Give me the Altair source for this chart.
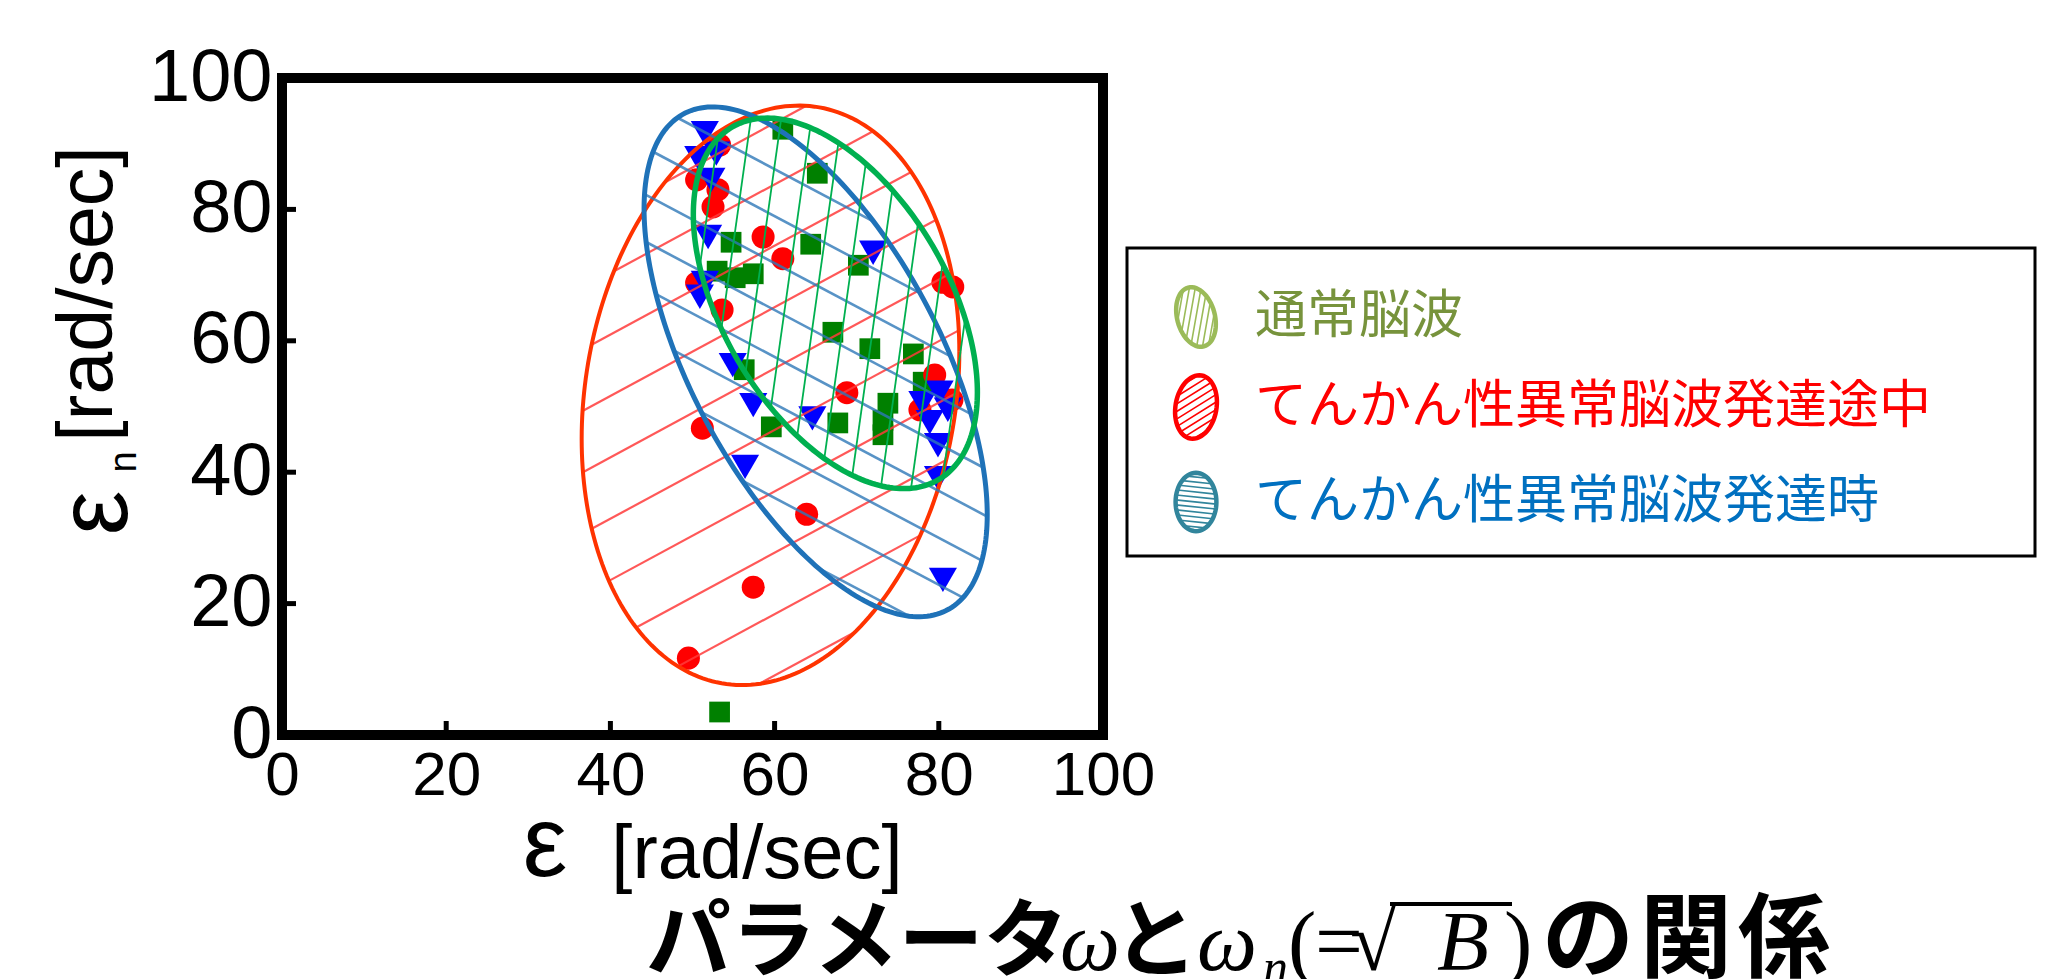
import math
import numpy as np
import pandas as pd
import altair as alt

# ---- measured points: ω (x) and ω_n (y), rad/sec ----
normal_w = [61.0, 65.2, 54.7, 64.4, 70.2, 53.0, 55.2, 57.4, 67.1, 71.6,
            76.9, 78.1, 56.3, 73.8, 73.2, 73.2, 59.6, 67.7, 53.3]
normal_wn = [92.2, 85.5, 75.0, 74.7, 71.5, 70.6, 69.6, 70.2, 61.3, 58.8,
             58.0, 53.7, 55.6, 50.5, 47.9, 45.7, 46.9, 47.5, 3.5]

onset_w = [53.3, 50.5, 53.1, 52.5, 58.6, 61.0, 50.5, 53.6, 80.5, 81.7,
           79.5, 77.7, 81.6, 68.8, 51.2, 63.9, 57.4, 49.5]
onset_wn = [89.8, 84.5, 83.0, 80.4, 75.8, 72.5, 68.8, 64.7, 68.9, 68.2,
            54.8, 49.5, 51.0, 52.1, 46.7, 33.6, 22.5, 11.7]

seizure_w = [51.5, 52.9, 50.7, 52.3, 51.9, 72.0, 51.5, 50.9, 54.9, 57.4,
             64.6, 78.0, 80.1, 81.1, 78.9, 79.9, 79.9, 56.4, 80.5]
seizure_wn = [91.6, 88.5, 87.8, 84.5, 75.8, 73.4, 68.8, 66.7, 56.3, 50.2,
              48.2, 50.5, 52.1, 49.5, 47.6, 44.1, 39.1, 40.8, 23.6]

group_labels = ["通常脳波", "てんかん性異常脳波発達途中", "てんかん性異常脳波発達時"]

# region ellipses (normal, onset, seizure): centre, half extents, x-y coupling
ellipse_cx = [67.4, 59.5, 65.0]
ellipse_cy = [65.7, 51.7, 56.8]
ellipse_hx = [17.3, 23.0, 20.9]
ellipse_hy = [28.2, 44.1, 38.8]
ellipse_rho = [-0.48, 0.15, -0.60]

tick_values = [0, 20, 40, 60, 80, 100]
inner_ticks = [20, 40, 60, 80]

# ---- layout ----
W, H = 821, 657
PAD = {"left": 282, "top": 78, "right": 2072 - 282 - W, "bottom": 979 - 78 - H}
SX, SY = W / 100.0, H / 100.0

LABEL_FONT = "Liberation Sans"
SERIF = "Liberation Serif"
JP_FONT = "Noto Sans CJK JP"

xs = alt.Scale(domain=[0, 100], nice=False, zero=False)
ys = alt.Scale(domain=[0, 100], nice=False, zero=False)
x_axis = alt.Axis(values=tick_values, title=None, grid=False, domain=False, ticks=False,
                  labelFont=LABEL_FONT, labelFontSize=62, labelPadding=10,
                  labelFlush=False, labelColor="black")
y_axis = alt.Axis(values=tick_values, title=None, grid=False, domain=False, ticks=False,
                  labelFont=LABEL_FONT, labelFontSize=74, labelPadding=10,
                  labelFlush=False, labelColor="black")


def X(field):
    return alt.X(field, type="quantitative", scale=xs, axis=x_axis)


def Y(field):
    return alt.Y(field, type="quantitative", scale=ys, axis=y_axis)


# ---- ellipse geometry (screen space, y up) ----
def ellipse_frame(cx, cy, hx, hy, rho):
    s = math.sqrt(1.0 - rho * rho)
    C = np.array([cx * SX, cy * SY])
    M = np.array([[hx * SX, 0.0], [hy * SY * rho, -hy * SY * s]])
    return C, M


def chords(C, M, theta_deg, spacing, anchor):
    th = math.radians(theta_deg)
    n = np.array([-math.sin(th), math.cos(th)])
    m = M.T @ n
    mn = float(np.linalg.norm(m))
    mu = m / mn
    mp = np.array([-mu[1], mu[0]])
    c0 = float(n @ C)
    k0 = float(n @ anchor)
    lo = math.floor((c0 - mn - k0) / spacing)
    hi = math.ceil((c0 + mn - k0) / spacing)
    segs = []
    for j in range(lo, hi + 1):
        r = (k0 + j * spacing - c0) / mn
        if abs(r) >= 0.995:
            continue
        h = math.sqrt(1.0 - r * r)
        segs.append((C + M @ (r * mu + h * mp), C + M @ (r * mu - h * mp)))
    return segs


def outline_df(i, n=241):
    t = np.linspace(0, 2 * np.pi, n)
    phi = math.acos(ellipse_rho[i])
    return pd.DataFrame({
        "x": ellipse_cx[i] + ellipse_hx[i] * np.cos(t),
        "y": ellipse_cy[i] + ellipse_hy[i] * np.cos(t + phi),
        "k": np.arange(n),
    })


def hatch_df(i, theta, spacing, anchor_data):
    C, M = ellipse_frame(ellipse_cx[i], ellipse_cy[i], ellipse_hx[i], ellipse_hy[i], ellipse_rho[i])
    anchor = np.array([anchor_data[0] * SX, anchor_data[1] * SY])
    rows = []
    for p, q in chords(C, M, theta, spacing, anchor):
        rows.append({"x": p[0] / SX, "y": p[1] / SY, "x2": q[0] / SX, "y2": q[1] / SY})
    return pd.DataFrame(rows)


# hatch settings: screen angle (deg), spacing (px), a point one line passes through
hatch = [
    dict(theta=82.0, spacing=30.0, anchor=(57.0, 92.8)),
    dict(theta=28.4, spacing=54.0, anchor=(37.9, 31.5)),
    dict(theta=-27.9, spacing=41.5, anchor=(85.6, 26.3)),
]
outline_color = ["#00b050", "#ff3300", "#1f72b8"]
outline_width = [5.5, 4.0, 5.0]
hatch_color = ["#00b050", "#ff3b3b", "#2e78b8"]
hatch_width = [1.8, 2.2, 2.6]
hatch_opacity = [1.0, 0.85, 0.8]


def region_layers(i):
    h = hatch[i]
    lines = alt.Chart(hatch_df(i, h["theta"], h["spacing"], h["anchor"])).mark_rule(
        color=hatch_color[i], strokeWidth=hatch_width[i], opacity=hatch_opacity[i]
    ).encode(x=X("x"), y=Y("y"), x2="x2", y2="y2")
    ring = alt.Chart(outline_df(i)).mark_line(
        color=outline_color[i], strokeWidth=outline_width[i]
    ).encode(x=X("x"), y=Y("y"), order="k:Q")
    return [lines, ring]


# ---- scatter ----
normal_pts = alt.Chart(pd.DataFrame({"w": normal_w, "wn": normal_wn})).mark_point(
    shape="square", filled=True, color="#008000", size=430, opacity=1
).encode(x=X("w"), y=Y("wn"))
onset_pts = alt.Chart(pd.DataFrame({"w": onset_w, "wn": onset_wn})).mark_point(
    shape="circle", filled=True, color="#ff0000", size=530, opacity=1
).encode(x=X("w"), y=Y("wn"))
seizure_pts = alt.Chart(pd.DataFrame({"w": seizure_w, "wn": seizure_wn})).mark_point(
    shape="triangle-down", filled=True, color="#0000ff", size=790, opacity=1
).encode(x=X("w"), y=Y("wn"))

# inward ticks
xt = alt.Chart(pd.DataFrame({"v": inner_ticks})).mark_rule(color="black", strokeWidth=5).encode(
    x=X("v"), y=alt.value(H), y2=alt.value(H - 14))
yt = alt.Chart(pd.DataFrame({"v": inner_ticks})).mark_rule(color="black", strokeWidth=5).encode(
    y=Y("v"), x=alt.value(0), x2=alt.value(14))


# ---- texts ----
def text_layer(txt, x, y, size, font=LABEL_FONT, angle=0, color="black", align="center",
               baseline="middle", style="normal", weight="normal"):
    return alt.Chart(pd.DataFrame({"t": [txt]})).mark_text(
        font=font, fontSize=size, angle=angle, color=color, align=align, baseline=baseline,
        fontStyle=style, fontWeight=weight
    ).encode(text="t:N", x=alt.value(x), y=alt.value(y))


axis_titles = [
    text_layer("ε", 263, 768, 100),
    text_layer("[rad/sec]", 475, 777, 76),
    text_layer("[rad/sec]", -193, 216, 77, angle=270),
    text_layer("ε", -185, 435, 100, angle=270),
    text_layer("n", -157, 384, 38, angle=270),
]

# bottom caption, set piece by piece: kana/kanji in gothic, math in italic serif
BASE = 892


def cap(txt, x, size=85, font=JP_FONT, style="normal", weight="bold", dy=0):
    return text_layer(txt, x, BASE + dy, size, font=font, style=style, weight=weight,
                      align="left", baseline="alphabetic")


caption = [
    cap("パラメータ", 364),
    cap("ω", 778, font=SERIF, style="italic", weight="normal"),
    cap("と", 831),
    cap("ω", 915, font=SERIF, style="italic", weight="normal"),
    cap("n", 981, size=50, font=SERIF, style="italic", weight="normal", dy=14),
    cap("(", 1006, font=SERIF, weight="normal"),
    cap("=", 1033, font=SERIF, weight="normal"),
    cap("√", 1068, font=SERIF, weight="normal"),
    cap("B", 1155, font=SERIF, style="italic", weight="normal"),
    cap(")", 1222, font=SERIF, weight="normal"),
    cap("の", 1260, size=92),
    cap("関", 1358, size=92),
    cap("係", 1456, size=92),
]
overbar = alt.Chart(pd.DataFrame({"b": [0]})).mark_rule(color="black", strokeWidth=4).encode(
    x=alt.value(1108), x2=alt.value(1230), y=alt.value(826))


# ---- legend ----
def icon_paths(a, theta_deg, spacing, n=60):
    t = np.linspace(0, 2 * np.pi, n, endpoint=False)
    ring = "M" + " L".join(f"{a * math.cos(v):.3f},{-math.sin(v):.3f}" for v in t) + " Z"
    segs = chords(np.zeros(2), np.array([[a, 0.0], [0.0, 1.0]]), theta_deg, spacing, np.zeros(2))
    lines = " ".join(f"M{p[0]:.3f},{-p[1]:.3f} L{q[0]:.3f},{-q[1]:.3f}" for p, q in segs)
    return ring, lines


legend_text_color = ["#77933c", "#ff0000", "#0070c0"]
legend_icon_color = ["#9bbb59", "#ff0000", "#31859c"]
legend_icon = [
    dict(a=0.62, angle=345, theta=65, spacing=0.19, size=3700),
    dict(a=0.64, angle=10, theta=42, spacing=0.2, size=4100),
    dict(a=0.70, angle=0, theta=-6, spacing=0.17, size=3400),
]
legend_row_y = [239, 329, 424]
ICON_X, TEXT_X = 914, 973

legend = [
    alt.Chart(pd.DataFrame({"b": [0]})).mark_rect(
        filled=False, stroke="black", strokeWidth=3
    ).encode(x=alt.value(845), x2=alt.value(1753), y=alt.value(170), y2=alt.value(478))
]
for i in range(3):
    ic = legend_icon[i]
    ring, lines = icon_paths(ic["a"], ic["theta"], ic["spacing"])
    one = pd.DataFrame({"b": [0]})
    legend.append(alt.Chart(one).mark_point(
        shape=lines, filled=False, stroke=legend_icon_color[i], strokeWidth=1.6,
        size=ic["size"], angle=ic["angle"], opacity=1
    ).encode(x=alt.value(ICON_X), y=alt.value(legend_row_y[i])))
    legend.append(alt.Chart(one).mark_point(
        shape=ring, filled=False, stroke=legend_icon_color[i], strokeWidth=4.5,
        size=ic["size"], angle=ic["angle"], opacity=1
    ).encode(x=alt.value(ICON_X), y=alt.value(legend_row_y[i])))
    legend.append(text_layer(group_labels[i], TEXT_X, legend_row_y[i], 52, font=JP_FONT,
                             color=legend_text_color[i], align="left"))

layers = ([normal_pts, onset_pts, seizure_pts]
          + region_layers(1) + region_layers(2) + region_layers(0)
          + [xt, yt] + axis_titles + caption + [overbar] + legend)

chart = alt.layer(*layers).properties(
    width=W, height=H, padding=PAD,
    autosize=alt.AutoSizeParams(type="none"),
    background="white",
).configure_view(stroke="black", strokeWidth=10)

chart.save("out.html", embed_options={"renderer": "svg", "actions": False})
